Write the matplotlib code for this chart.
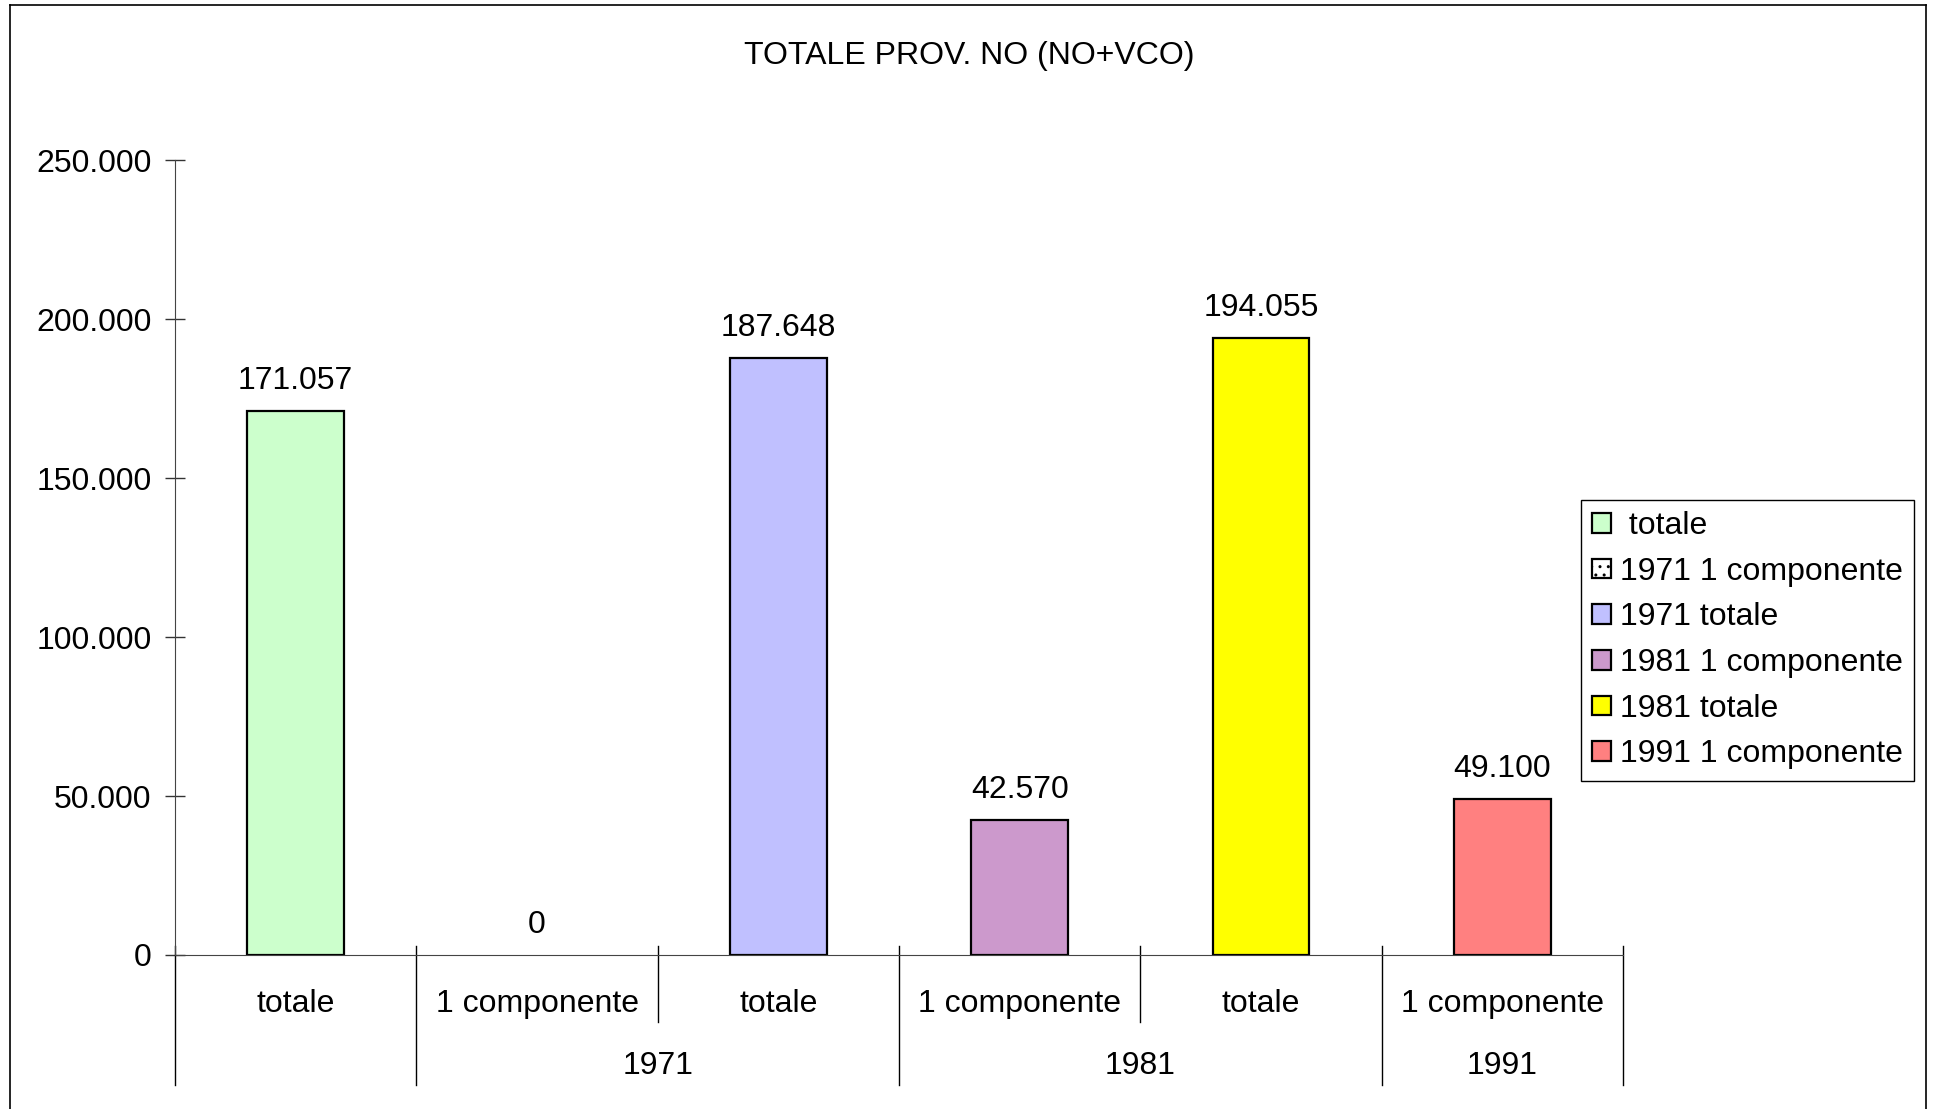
import matplotlib
matplotlib.use("Agg")
import matplotlib.pyplot as plt
from matplotlib.patches import Patch
from matplotlib.lines import Line2D
from matplotlib.transforms import blended_transform_factory

plt.rcParams['font.family'] = ['Liberation Sans', 'DejaVu Sans']

title = "TOTALE PROV. NO (NO+VCO)"
categories = ["totale", "1 componente", "totale", "1 componente", "totale", "1 componente"]
series_names = [" totale", "1971 1 componente", "1971 totale", "1981 1 componente", "1981 totale", "1991 1 componente"]
values = [171057, 0, 187648, 42570, 194055, 49100]
colors = ["#CCFFCC", "#FFFFFF", "#C0C0FF", "#CC99CC", "#FFFF00", "#FF8080"]
hatches = [None, "..", None, None, None, None]
groups = [("1971", 1, 2), ("1981", 3, 4), ("1991", 5, 5)]
yticks = [0, 50000, 100000, 150000, 200000, 250000]

FS = 23

def fmt(v):
    return f"{v:,}".replace(",", ".")

fig = plt.figure(figsize=(19.34, 11.09), dpi=100)
ax = fig.add_axes([175/1934, 1-955/1109, (1623-175)/1934, (955-160)/1109])

x = list(range(len(categories)))
bars = ax.bar(x, values, width=0.4, color=colors, edgecolor="black", linewidth=1.6)
for b, h, v in zip(bars, hatches, values):
    if h:
        b.set_hatch(h)
    if v == 0:
        b.set_linewidth(0)
        b.set_hatch(None)
for xi, v in zip(x, values):
    ax.annotate(fmt(v), (xi, v), xytext=(0, 30), textcoords="offset pixels",
                ha="center", va="center", fontsize=FS)

ax.set_xlim(-0.5, len(categories) - 0.5)
ax.set_ylim(0, 250000)
ax.set_yticks(yticks)
ax.set_yticklabels([fmt(t) for t in yticks], fontsize=FS)
ax.tick_params(axis="y", direction="inout", length=14, width=1, pad=10, color="#333333")
ax.set_xticks([])
for s in ["top", "right"]:
    ax.spines[s].set_visible(False)
ax.spines["left"].set_color("#444444")
ax.spines["bottom"].set_color("#444444")

tr = blended_transform_factory(ax.transData, ax.transAxes)
long_b = {0, 1, 3, 5, 6}
for k in range(len(categories) + 1):
    xb = k - 0.5
    ybot = -0.1635 if k in long_b else -0.0843
    ax.add_line(Line2D([xb, xb], [0.0113, ybot], transform=tr, color="black",
                       linewidth=1, clip_on=False))
for xi, c in zip(x, categories):
    ax.text(xi, -0.062, c, transform=tr, ha="center", va="center", fontsize=FS)
for name, a, b in groups:
    ax.text((a + b) / 2, -0.140, name, transform=tr, ha="center", va="center", fontsize=FS)

fig.text(969/1934, 1-56/1109, title, ha="center", va="center", fontsize=FS)

handles = [Patch(facecolor=c, edgecolor="black", hatch=h, linewidth=1.6) for c, h in zip(colors, hatches)]
leg = fig.legend(handles, series_names, loc="upper left",
                 bbox_to_anchor=(1581/1934, 1-500/1109), borderaxespad=0,
                 fontsize=FS, handlelength=0.58, handleheight=0.58,
                 handletextpad=0.3, labelspacing=0.49, borderpad=0.35,
                 fancybox=False, edgecolor="black", framealpha=1)
leg.get_frame().set_linewidth(1)

# outer frame
for xs, ys in [([10/1934, 10/1934], [0, 1-5/1109]),
               ([10/1934, 1926/1934], [1-5/1109, 1-5/1109]),
               ([1926/1934, 1926/1934], [1-5/1109, 0])]:
    fig.add_artist(Line2D(xs, ys, transform=fig.transFigure, color="black", linewidth=1.2))

fig.savefig("out.png", dpi=100)
